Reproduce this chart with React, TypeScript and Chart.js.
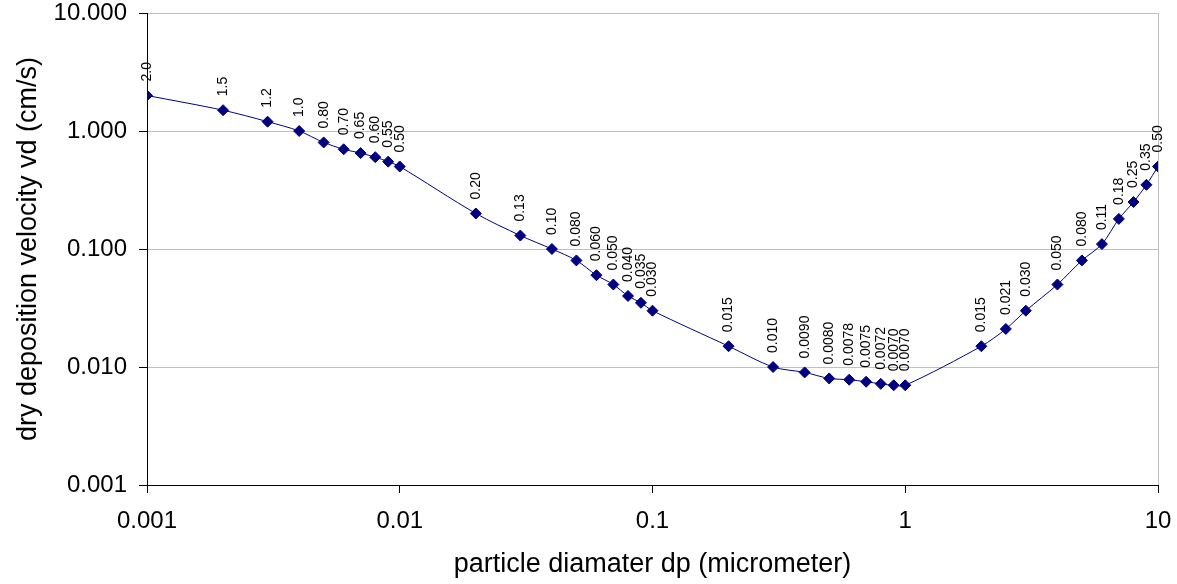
import React, { useEffect, useRef } from "react";
import { Chart, registerables } from "chart.js";

Chart.register(...registerables);

const diameters = [0.001, 0.002, 0.003, 0.004, 0.005, 0.006, 0.007, 0.008, 0.009, 0.01, 0.02, 0.03, 0.04, 0.05, 0.06, 0.07, 0.08, 0.09, 0.1, 0.2, 0.3, 0.4, 0.5, 0.6, 0.7, 0.8, 0.9, 1, 2, 2.5, 3, 4, 5, 6, 7, 8, 9, 10];
const velocities = [2.0, 1.5, 1.2, 1.0, 0.8, 0.7, 0.65, 0.6, 0.55, 0.5, 0.2, 0.13, 0.1, 0.08, 0.06, 0.05, 0.04, 0.035, 0.03, 0.015, 0.01, 0.009, 0.008, 0.0078, 0.0075, 0.0072, 0.007, 0.007, 0.015, 0.021, 0.03, 0.05, 0.08, 0.11, 0.18, 0.25, 0.35, 0.5];
const pointLabels = ["2.0", "1.5", "1.2", "1.0", "0.80", "0.70", "0.65", "0.60", "0.55", "0.50", "0.20", "0.13", "0.10", "0.080", "0.060", "0.050", "0.040", "0.035", "0.030", "0.015", "0.010", "0.0090", "0.0080", "0.0078", "0.0075", "0.0072", "0.0070", "0.0070", "0.015", "0.021", "0.030", "0.050", "0.080", "0.11", "0.18", "0.25", "0.35", "0.50"];
const xTickValues = [0.001, 0.01, 0.1, 1, 10];
const xTickLabels = ["0.001", "0.01", "0.1", "1", "10"];
const yTickValues = [0.001, 0.01, 0.1, 1, 10];
const yTickLabels = ["0.001", "0.010", "0.100", "1.000", "10.000"];

const FONT = "'Liberation Sans', Arial, sans-serif";
const NAVY = "#000080";
const GRID = "#c0c0c0";

const labelPlugin = {
  id: "pointLabels",
  afterDatasetsDraw(chart: any) {
    const ctx = chart.ctx;
    const meta = chart.getDatasetMeta(0);
    ctx.save();
    ctx.font = `14px ${FONT}`;
    ctx.fillStyle = "#000";
    ctx.textAlign = "left";
    ctx.textBaseline = "middle";
    meta.data.forEach((pt: any, i: number) => {
      ctx.save();
      ctx.translate(pt.x, pt.y - 14);
      ctx.rotate(-Math.PI / 2);
      ctx.fillText(pointLabels[i], 0, 0);
      ctx.restore();
    });
    ctx.restore();
  },
};

export default function App() {
  const ref = useRef<HTMLCanvasElement | null>(null);
  useEffect(() => {
    if (!ref.current) return;
    const chart = new Chart(ref.current, {
      type: "line",
      data: {
        datasets: [
          {
            data: diameters.map((d, i) => ({ x: d, y: velocities[i] })),
            borderColor: NAVY,
            backgroundColor: NAVY,
            borderWidth: 1,
            pointStyle: "rectRot",
            pointRadius: 5.5,
            pointBorderWidth: 1,
            pointBorderColor: NAVY,
            pointBackgroundColor: NAVY,
            tension: 0.3,
            fill: false,
          },
        ],
      },
      options: {
        animation: false,
        responsive: true,
        maintainAspectRatio: false,
        layout: { padding: { top: 13, right: 19, left: 0, bottom: 0 } },
        plugins: { legend: { display: false }, tooltip: { enabled: false } },
        scales: {
          x: {
            type: "logarithmic",
            min: 0.001,
            max: 10,
            afterBuildTicks: (s: any) => {
              s.ticks = xTickValues.map((v) => ({ value: v }));
            },
            afterFit: (s: any) => {
              s.height = 99;
              s.paddingLeft = 0;
              s.paddingRight = 0;
            },
            ticks: {
              autoSkip: false,
              maxRotation: 0,
              padding: 14,
              color: "#000",
              font: { family: FONT, size: 24 },
              callback: (v: any) => {
                const i = xTickValues.findIndex((t) => Math.abs(t - v) / t < 1e-6);
                return i >= 0 ? xTickLabels[i] : "";
              },
            },
            grid: {
              color: (c: any) => (c.tick && c.tick.value === 10 ? GRID : "rgba(0,0,0,0)"),
              tickColor: "#000",
              tickLength: 8,
              lineWidth: 1,
            },
            border: { color: "#000", width: 1 },
            title: {
              display: true,
              text: "particle diamater dp (micrometer)",
              color: "#000",
              font: { family: FONT, size: 27 },
              padding: { top: 0, bottom: 3 },
            },
          },
          y: {
            type: "logarithmic",
            min: 0.001,
            max: 10,
            afterBuildTicks: (s: any) => {
              s.ticks = yTickValues.map((v) => ({ value: v }));
            },
            afterFit: (s: any) => {
              s.width = 147;
              s.paddingTop = 0;
              s.paddingBottom = 0;
            },
            ticks: {
              autoSkip: false,
              padding: 12,
              color: "#000",
              font: { family: FONT, size: 24 },
              callback: (v: any) => {
                const i = yTickValues.findIndex((t) => Math.abs(t - v) / t < 1e-6);
                return i >= 0 ? yTickLabels[i] : "";
              },
            },
            grid: {
              color: GRID,
              tickColor: "#000",
              tickLength: 8,
              lineWidth: 1,
            },
            border: { color: "#000", width: 1 },
            title: {
              display: true,
              text: "dry deposition velocity vd (cm/s)",
              color: "#000",
              font: { family: FONT, size: 27 },
              padding: { top: 12, bottom: 0 },
            },
          },
        },
      },
      plugins: [labelPlugin],
    });
    return () => chart.destroy();
  }, []);
  return (
    <div style={{ position: "absolute", left: 0, top: 0, width: 1177, height: 584, background: "#fff" }}>
      <canvas ref={ref} />
    </div>
  );
}
